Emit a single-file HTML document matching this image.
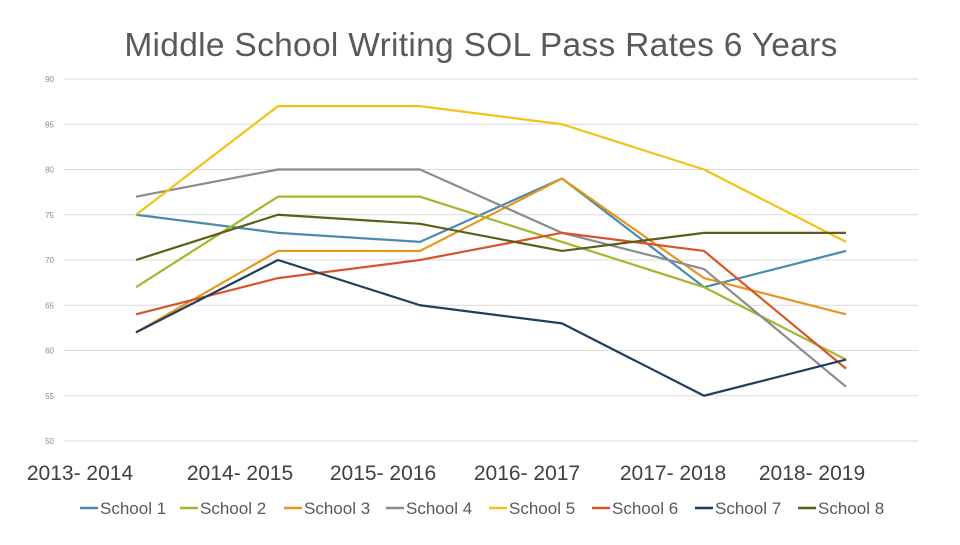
<!DOCTYPE html>
<html><head><meta charset="utf-8"><style>
body{margin:0;background:#fff;width:960px;height:540px;overflow:hidden;font-family:"Liberation Sans",sans-serif}
</style></head><body>
<svg id="c" width="960" height="540">
<text x="481" y="56" text-anchor="middle" font-size="33.5" letter-spacing="0.3" fill="#595959">Middle School Writing SOL Pass Rates 6 Years</text>
</svg>
<script>
const categories=["2013- 2014","2014- 2015","2015- 2016","2016- 2017","2017- 2018","2018- 2019"];
const seriesNames=["School 1","School 2","School 3","School 4","School 5","School 6","School 7","School 8"];
const s1=[75,73,72,79,67,71];
const s2=[67,77,77,72,67,59];
const s3=[62,71,71,79,68,64];
const s4=[77,80,80,73,69,56];
const s5=[75,87,87,85,80,72];
const s6=[64,68,70,73,71,58];
const s7=[62,70,65,63,55,59];
const s8=[70,75,74,71,73,73];
const yTicks=[50,55,60,65,70,75,80,85,90];
const series=[s1,s2,s3,s4,s5,s6,s7,s8];
const colors=["#4a8bad","#a5b52c","#e8951c","#8c8c8c","#f2c314","#d9542b","#1f3f5c","#5e5d1a"];
const NS="http://www.w3.org/2000/svg";
const svg=document.getElementById('c');
const y=v=>441-(v-50)*(362/40);
const x=i=>136+i*142;
function mk(t,a,p){const e=document.createElementNS(NS,t);for(const k in a)e.setAttribute(k,a[k]);(p||svg).appendChild(e);return e;}
yTicks.forEach(t=>{
 const l=mk('line',{x1:64,x2:918,y1:y(t),y2:y(t),stroke:'#d9d9d9','stroke-width':1});
 
 
 const tx=mk('text',{x:54,y:y(t)+3,'text-anchor':'end','font-size':8,fill:'#8a8a8a'});
 tx.textContent=t;
 
 
});
categories.forEach((c,i)=>{
 const xpos=[80,240,383,527,673,812][i];
 const t=mk('text',{x:xpos,y:480,'text-anchor':'middle','font-size':21,fill:'#404040'});
 t.textContent=c;
 
 
});
series.forEach((s,k)=>{
 const p=mk('polyline',{points:s.map((v,i)=>x(i)+','+y(v)).join(' '),fill:'none',stroke:colors[k],'stroke-width':2.2,'stroke-linejoin':'round'});
 
 
});
const lx=[80,180,284,386,489,592,695,798];
seriesNames.forEach((n,k)=>{
 const g=mk('g',{});
 
 
 mk('line',{x1:lx[k],x2:lx[k]+18,y1:508,y2:508,stroke:colors[k],'stroke-width':2.5},g);
 const t=mk('text',{x:lx[k]+20,y:514,'font-size':17,fill:'#595959'},g);
 t.textContent=n;
});
</script>
</body></html>
